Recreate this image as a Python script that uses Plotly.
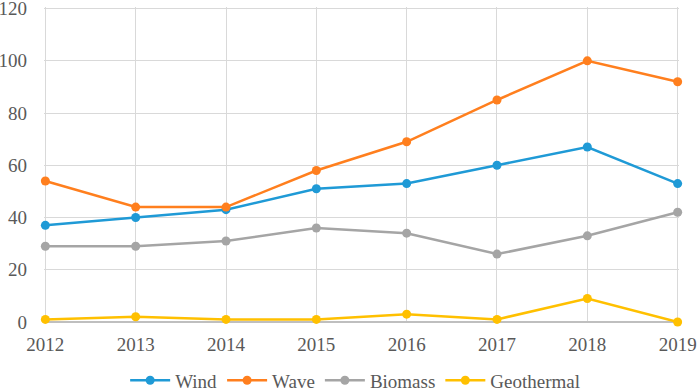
import plotly.graph_objects as go

years = [2012, 2013, 2014, 2015, 2016, 2017, 2018, 2019]
wind = [37, 40, 43, 51, 53, 60, 67, 53]
wave = [54, 44, 44, 58, 69, 85, 100, 92]
biomass = [29, 29, 31, 36, 34, 26, 33, 42]
geothermal = [1, 2, 1, 1, 3, 1, 9, 0]
yticks = [0, 20, 40, 60, 80, 100, 120]

series = [
    ("Wind", wind, "#1F9AD6"),
    ("Wave", wave, "#FF7F1E"),
    ("Biomass", biomass, "#A5A5A5"),
    ("Geothermal", geothermal, "#FFC000"),
]

fig = go.Figure()
for name, vals, col in series:
    fig.add_trace(go.Scatter(
        x=years, y=vals, name=name, mode="lines+markers",
        line=dict(color=col, width=2.5),
        marker=dict(color=col, size=9),
        cliponaxis=False,
    ))

FAM = "'Liberation Serif', 'Times New Roman', Tinos, 'DejaVu Serif', serif"
font = dict(family=FAM, size=19, color="#595959")
fig.update_layout(
    width=699, height=390,
    margin=dict(l=44, r=20, t=7, b=68, autoexpand=False),
    paper_bgcolor="white", plot_bgcolor="white",
    font=font,
    showlegend=True,
    legend=dict(orientation="h", x=0.49, xanchor="center", y=-0.125, yanchor="top",
                font=dict(family=FAM, size=19, color="#595959"),
                tracegroupgap=0, itemwidth=40),
    xaxis=dict(range=[2011.985, 2019.015], tickvals=years, showgrid=True, gridcolor="#D9D9D9",
               gridwidth=1, zeroline=False, showline=False, ticks="", tickfont=font,
               automargin=False, ticklabelstandoff=9, ticklabeloverflow="allow"),
    yaxis=dict(range=[0, 120.6], tickvals=yticks, showgrid=True, gridcolor="#D9D9D9",
               gridwidth=1, zeroline=True, zerolinecolor="#BFBFBF", zerolinewidth=1.5,
               showline=False, ticks="", tickfont=font, ticklabelstandoff=16,
               automargin=False, ticklabeloverflow="allow"),
)
fig.write_html("out.html", config={"displayModeBar": False},
               post_script="document.body.style.margin='0';document.body.style.padding='0';")
